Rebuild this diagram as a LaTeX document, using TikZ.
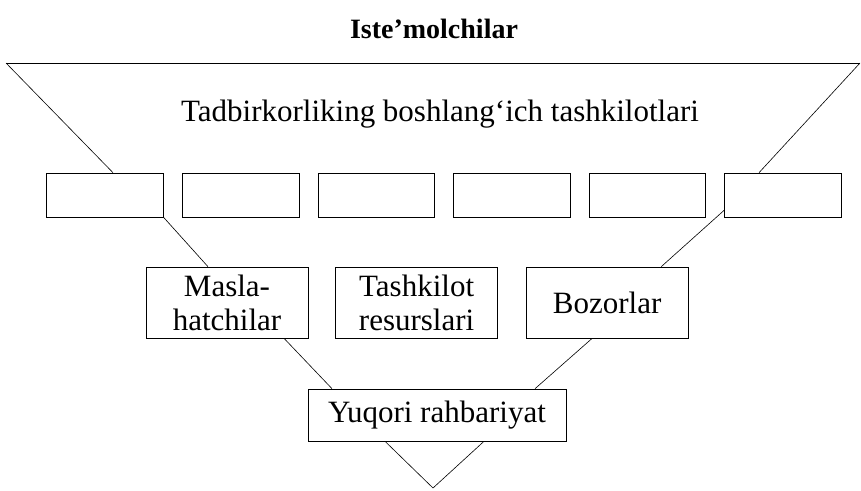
\documentclass[tikz,border=0pt]{standalone}
\usepackage{fontspec}
\setmainfont{Liberation Serif}
\usetikzlibrary{positioning}

\begin{document}
\begin{tikzpicture}[
	x=1pt, y=-1pt,
	node distance=18.5pt,
	line width=0.6pt,
	every node/.style={font=\fontsize{31}{34}\selectfont},
	cell/.style={draw, rectangle, minimum width=116.5pt, minimum height=44pt, inner sep=0pt},
	part/.style={draw, rectangle, align=center, minimum width=162pt, minimum height=71pt, inner sep=0pt},
	chief/.style={draw, rectangle, minimum width=258pt, minimum height=52pt, inner sep=0pt}
	]

		\useasboundingbox (0,0) rectangle (861,490);

		% Nodes
		\node[anchor=base, font=\fontsize{28}{32}\selectfont\bfseries] (title) at (434,38) {Iste’molchilar};
		\coordinate (tl) at (6,63);
		\coordinate (tr) at (860,63);
		\node[anchor=base] (org) at (440,121) {Tadbirkorliking boshlang‘ich tashkilotlari};

		\node[cell] (b1) at (105,195) {};
		\node[cell, right=of b1] (b2) {};
		\node[cell, right=of b2] (b3) {};
		\node[cell, right=of b3] (b4) {};
		\node[cell, right=of b4] (b5) {};
		\node[cell, right=of b5] (b6) {};

		\node[part] (m1) at (227,302.5) {Masla-\\hatchilar};
		\node[part, right=27pt of m1] (m2) {Tashkilot\\resurslari};
		\node[part, right=28pt of m2] (m3) {Bozorlar};

		\node[chief] (rahbar) at (437,415) {Yuqori rahbariyat};
		\coordinate (apex) at (433,488);

		% Funnel
		\draw (tl) -- (tr);
		\draw (tl) -- ([xshift=8pt]b1.north);
		\draw (tr) -- ([xshift=-24pt]b6.north);
		\draw (b1.south east) -- ([xshift=-19pt]m1.north);
		\draw ([yshift=-15pt]b6.west) -- ([xshift=54pt]m3.north);
		\draw ([xshift=57pt]m1.south) -- ([xshift=-105pt]rahbar.north);
		\draw ([xshift=-15pt]m3.south) -- ([xshift=98pt]rahbar.north);
		\draw ([xshift=-52pt]rahbar.south) -- (apex) -- ([xshift=47pt]rahbar.south);
	\end{tikzpicture}
\end{document}
